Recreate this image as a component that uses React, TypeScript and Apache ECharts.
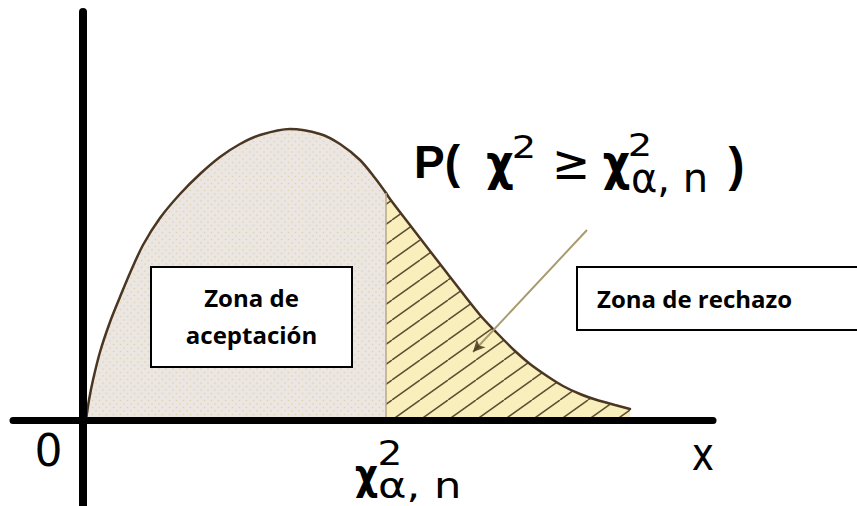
import React, { useEffect, useRef } from "react";
import * as echarts from "echarts";

// Density curve (x in axis units, y in density units)
const acceptX = [0.06, 0.12, 0.2, 0.34, 0.54, 0.74, 0.94, 1.2, 1.54, 1.94, 2.34, 2.74, 3.14, 3.54, 4.14, 4.74, 5.14, 5.54, 5.84, 6.06];
const acceptY = [0, 0.02, 0.04, 0.068, 0.098, 0.123, 0.147, 0.175, 0.202, 0.226, 0.246, 0.263, 0.276, 0.285, 0.291, 0.286, 0.276, 0.26, 0.242, 0.227];
const rejectX = [6.06, 6.14, 6.6, 7.28, 7.94, 8.28, 8.64, 8.94, 9.28, 9.6, 9.94, 10.28, 10.64, 10.94];
const rejectY = [0.227, 0.221, 0.191, 0.147, 0.105, 0.087, 0.069, 0.056, 0.044, 0.034, 0.026, 0.02, 0.015, 0.011];
const criticalX = 6.06;
const pointerX = [10.08, 7.8];
const pointerY = [0.19, 0.068];

const X_MIN = -1.4;
const X_MAX = 12.6;
const Y_MIN = -0.085;
const Y_MAX = 0.408;

const svgUrl = (s: string) => "data:image/svg+xml;charset=utf-8," + encodeURIComponent(s);

const hatchTile = svgUrl(
  '<svg xmlns="http://www.w3.org/2000/svg" width="28" height="20"><rect width="28" height="20" fill="#f8efbd"/><g stroke="#5f4f34" stroke-width="1.5"><line x1="0" y1="20" x2="28" y2="0"/><line x1="-28" y1="20" x2="0" y2="0"/><line x1="28" y1="20" x2="56" y2="0"/></g></svg>'
);
const dotTile = svgUrl(
  '<svg xmlns="http://www.w3.org/2000/svg" width="7" height="7"><rect width="7" height="7" fill="#ece6e3"/><circle cx="1.5" cy="1.5" r="0.8" fill="#ddd3aa"/><circle cx="5" cy="5" r="0.8" fill="#ddd3aa"/></svg>'
);

const zip = (xs: number[], ys: number[]) => xs.map((x, i) => [x, ys[i]]);

export default function App() {
  const ref = useRef<HTMLDivElement>(null);
  useEffect(() => {
    if (!ref.current) return;
    const chart = echarts.init(ref.current, null, { renderer: "svg" });
    const txt = (
      x: number,
      y: number,
      text: string,
      size: number,
      family: string,
      weight: string,
      align: string,
      scaleX = 1
    ) => ({
      type: "text",
      x,
      y,
      scaleX,
      z: 100,
      style: {
        text,
        fontSize: size,
        fontFamily: family,
        fontWeight: weight,
        fill: "#000",
        align,
        verticalAlign: "middle",
      },
    });
    const box = (x: number, y: number, w: number, h: number) => ({
      type: "rect",
      z: 99,
      shape: { x, y, width: w, height: h },
      style: { fill: "#fff", stroke: "#000", lineWidth: 2 },
    });
    const calibri = "'Open Sans', sans-serif";
    const sans = "'DejaVu Sans', sans-serif";
    const helv = "'Liberation Sans', Arial, sans-serif";
    const curveLine = { color: "#4b3621", width: 2.5, cap: "round" };
    chart.setOption({
      animation: false,
      grid: { left: 13, right: 144, top: 12, bottom: 1 },
      xAxis: {
        type: "value",
        min: X_MIN,
        max: X_MAX,
        z: 10,
        axisLine: { show: true, onZero: true, lineStyle: { color: "#000", width: 7 } },
        axisTick: { show: false },
        axisLabel: { show: false },
        splitLine: { show: false },
      },
      yAxis: {
        type: "value",
        min: Y_MIN,
        max: Y_MAX,
        z: 10,
        axisLine: { show: true, onZero: true, lineStyle: { color: "#000", width: 8 } },
        axisTick: { show: false },
        axisLabel: { show: false },
        splitLine: { show: false },
      },
      series: [
        {
          type: "line",
          data: zip(acceptX, acceptY),
          smooth: 0.3,
          symbol: "none",
          lineStyle: curveLine,
          areaStyle: {
            opacity: 1,
            color: { image: dotTile, repeat: "repeat", imageWidth: 7, imageHeight: 7 },
          },
          z: 2,
        },
        {
          type: "line",
          data: zip(rejectX, rejectY),
          smooth: 0.3,
          symbol: "none",
          lineStyle: curveLine,
          areaStyle: {
            opacity: 1,
            color: { image: hatchTile, repeat: "repeat", imageWidth: 28, imageHeight: 20 },
          },
          z: 2,
        },
        {
          type: "line",
          data: [
            [criticalX, 0],
            [criticalX, acceptY[acceptY.length - 1]],
          ],
          symbol: "none",
          lineStyle: { color: "#b9a98a", width: 1.5 },
          z: 3,
        },
        {
          type: "line",
          data: zip(pointerX, pointerY),
          symbol: "none",
          lineStyle: { color: "#aa9b6e", width: 2 },
          z: 4,
        },
        {
          type: "scatter",
          data: [[pointerX[1], pointerY[1]]],
          symbol: "arrow",
          symbolSize: [9, 12],
          symbolRotate: 137,
          itemStyle: { color: "#3b2a12" },
          z: 5,
        },
      ],
      graphic: [
        box(151, 267, 201, 100),
        txt(251.5, 297, "Zona de", 24, calibri, "bold", "center"),
        txt(251.5, 334, "aceptación", 24, calibri, "bold", "center"),
        box(577, 267, 300, 63),
        txt(597, 298, "Zona de rechazo", 24, calibri, "bold", "left"),
        txt(48.5, 450, "0", 44, sans, "normal", "center"),
        txt(703, 453, "x", 47, sans, "normal", "center", 0.8),
        // P( χ² ≥ χ²α,n )
        txt(414, 162, "P(", 46, helv, "bold", "left"),
        txt(500, 163, "χ", 50, sans, "bold", "center", 0.85),
        txt(524, 147, "2", 32, sans, "normal", "center", 1.2),
        txt(571, 163, "≥", 48, sans, "normal", "center", 0.95),
        txt(616.5, 163, "χ", 50, sans, "bold", "center", 0.85),
        txt(640, 145, "2", 32, sans, "normal", "center", 1.2),
        txt(631, 178, "α, n", 40, sans, "normal", "left"),
        txt(736.5, 164, ")", 48, helv, "bold", "center"),
        // χ²α,n under the axis
        txt(366.5, 474, "χ", 42, sans, "bold", "center", 0.85),
        txt(390, 453, "2", 34, sans, "normal", "center", 1.15),
        txt(378, 485.5, "α, n", 36, sans, "normal", "left", 1.2),
      ],
    });
    return () => chart.dispose();
  }, []);
  return (
    <div
      ref={ref}
      style={{ position: "fixed", left: 0, top: 0, width: 857, height: 506, background: "#fff" }}
    />
  );
}
